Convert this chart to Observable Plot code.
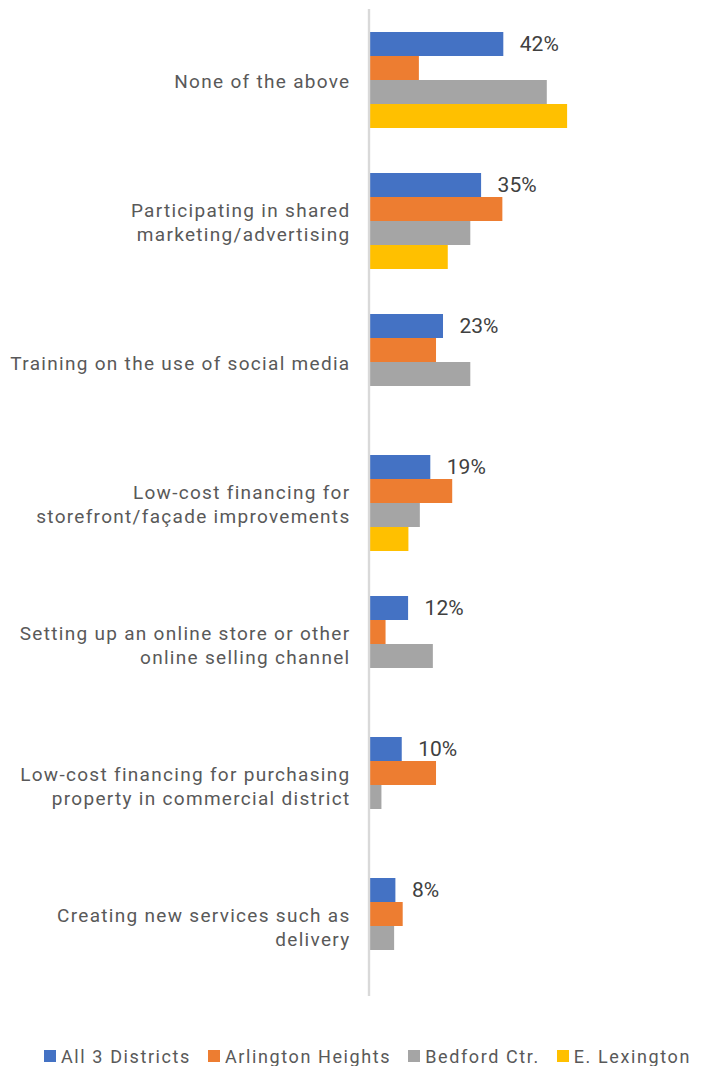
<!DOCTYPE html>
<html>
<head>
<meta charset="utf-8">
<script src="https://cdn.jsdelivr.net/npm/d3@7"></script>
<script src="https://cdn.jsdelivr.net/npm/@observablehq/plot@0.6"></script>
<style>
  html, body { margin: 0; padding: 0; background: #fff; }
  body { width: 710px; font-family: Roboto, "Liberation Sans", sans-serif; }
  #legend { display: flex; justify-content: flex-start; align-items: center; padding-left: 44px;
    height: 20px; margin-top: 6px; font-size: 18px; color: #595959; letter-spacing: 1.6px; white-space: nowrap; }
  #legend .item { display: flex; align-items: center; }
  #legend .sw { width: 12px; height: 12px; margin-right: 5px; }
</style>
</head>
<body>
<div id="chart"></div>
<div id="legend"></div>
<script>
const categories = [
  "None of the above",
  "Participating in shared\nmarketing/advertising",
  "Training on the use of social media",
  "Low-cost financing for\nstorefront/façade improvements",
  "Setting up an online store or other\nonline selling channel",
  "Low-cost financing for purchasing\nproperty in commercial district",
  "Creating new services such as\ndelivery"
];
const seriesNames = ["All 3 Districts", "Arlington Heights", "Bedford Ctr.", "E. Lexington"];
const allDistricts = [42, 35, 23, 19, 12, 10, 8];
const arlingtonHeights = [15.4, 41.7, 20.8, 25.9, 4.9, 20.8, 10.3];
const bedfordCtr = [55.7, 31.6, 31.6, 15.7, 19.8, 3.6, 7.6];
const eLexington = [62.1, 24.5, null, 12.1, null, null, null];
const colors = ["#4472C4", "#ED7D31", "#A5A5A5", "#FFC000"];

const seriesValues = [allDistricts, arlingtonHeights, bedfordCtr, eLexington];
const data = [];
categories.forEach((c, i) => {
  seriesNames.forEach((s, j) => {
    const v = seriesValues[j][i];
    if (v != null) data.push({category: c, series: s, value: v});
  });
});
const labelRows = data.filter(d => d.series === seriesNames[0]);

const chart = Plot.plot({
  width: 710,
  height: 1040,
  marginLeft: 370,
  marginRight: 22.6,
  marginTop: 8,
  marginBottom: 43,
  style: {fontFamily: "Roboto, 'Liberation Sans', sans-serif", background: "#fff"},
  x: {domain: [0, 100], axis: null},
  fy: {domain: categories, padding: 0, axis: null},
  y: {domain: seriesNames, paddingInner: 0, paddingOuter: 0.925, axis: null},
  color: {domain: seriesNames, range: colors},
  marks: [
    Plot.barX(data, {fy: "category", y: "series", x: "value", fill: "series"}),
    Plot.ruleX([0], {stroke: "#D9D9D9", strokeWidth: 2.4, dx: -1.5}),
    Plot.text(labelRows, {
      fy: "category", y: "series", x: "value",
      text: d => d.value + "%", dx: 16, textAnchor: "start",
      fill: "#404040", fontSize: 21
    }),
    Plot.text(categories, {
      fy: d => d, frameAnchor: "left", dx: -20, textAnchor: "end", lineAnchor: "middle",
      text: d => d, fill: "#595959", fontSize: 19, lineHeight: 1.26
    })
  ]
});
document.getElementById("chart").appendChild(chart);

// widen the category labels' letter spacing (last text mark)
const textGroups = chart.querySelectorAll('g[aria-label="text"]');
const catGroup = textGroups[textGroups.length - 1];
if (catGroup) {
  catGroup.querySelectorAll("text").forEach(t => t.style.letterSpacing = "1.3px");
}

const legend = document.getElementById("legend");
seriesNames.forEach((s, i) => {
  const item = document.createElement("div");
  item.className = "item";
  item.style.marginRight = "17px";
  const sw = document.createElement("span");
  sw.className = "sw";
  sw.style.background = colors[i];
  const t = document.createElement("span");
  t.textContent = s;
  item.appendChild(sw);
  item.appendChild(t);
  legend.appendChild(item);
});
</script>
</body>
</html>
